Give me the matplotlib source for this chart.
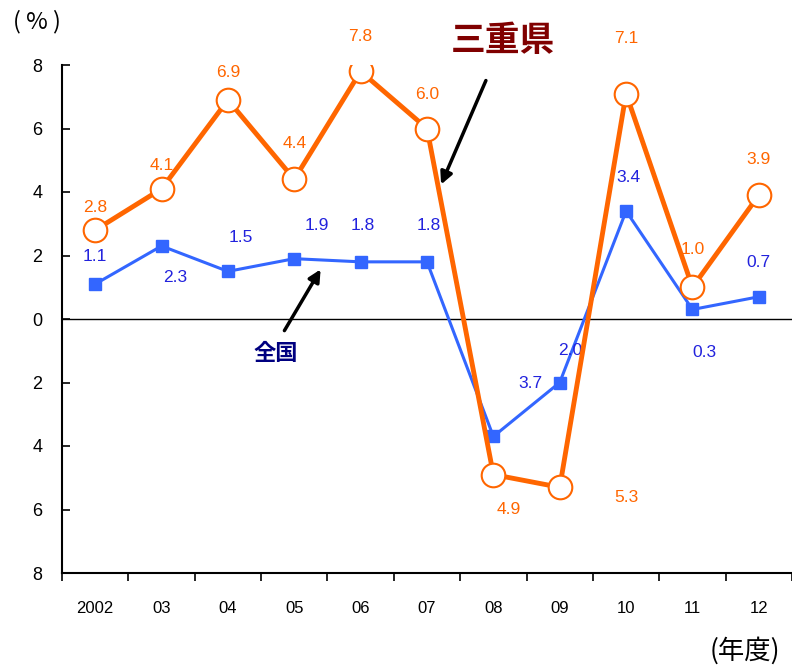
import numpy as np
import matplotlib.pyplot as plt

plt.rcParams['font.family'] = ['Liberation Sans Narrow', 'Liberation Sans', 'DejaVu Sans']

years = ['2002', '03', '04', '05', '06', '07', '08', '09', '10', '11', '12']
mie = [2.8, 4.1, 6.9, 4.4, 7.8, 6.0, -4.9, -5.3, 7.1, 1.0, 3.9]
zenkoku = [1.1, 2.3, 1.5, 1.9, 1.8, 1.8, -3.7, -2.0, 3.4, 0.3, 0.7]
mie_txt = ['2.8', '4.1', '6.9', '4.4', '7.8', '6.0', '4.9', '5.3', '7.1', '1.0', '3.9']
zen_txt = ['1.1', '2.3', '1.5', '1.9', '1.8', '1.8', '3.7', '2.0', '3.4', '0.3', '0.7']
yticks = [8, 6, 4, 2, 0, -2, -4, -6, -8]
ytick_txt = ['8', '6', '4', '2', '0', '2', '4', '6', '8']

# label offsets in pixels (dx, dy) from the marker
mie_off = [(0, 23), (0, 23), (0, 27), (0, 36), (0, 35), (0, 34), (15, -35), (67, -10), (0, 55), (0, 38), (0, 36)]
zen_off = [(0, 28), (14, -32), (13, 34), (23, 33), (2, 36), (2, 36), (37, 53), (10, 32), (2, 34), (12, -43), (0, 34)]

cjk = ['Noto Sans CJK JP', 'DejaVu Sans']

fig = plt.figure(figsize=(7.92, 6.65), dpi=100)
ax = fig.add_axes([62 / 792, 1 - 573 / 665, 730 / 792, 508 / 665])
x = np.arange(len(years))

ax.plot(x, zenkoku, color='#3366FF', lw=2.2, marker='s', ms=9, mfc='#3366FF', mec='#3366FF', zorder=3)
ax.plot(x, mie, color='#FF6600', lw=3.5, marker='o', ms=17, mfc='white', mec='#FF6600', mew=1.5, zorder=4)
ax.axhline(0, color='black', lw=1, zorder=1)

for i in range(len(x)):
    ax.annotate(mie_txt[i], (x[i], mie[i]), xytext=(mie_off[i][0] * 0.72, mie_off[i][1] * 0.72),
                textcoords='offset points', ha='center', va='center', color='#FF6600', fontsize=12.5)
    ax.annotate(zen_txt[i], (x[i], zenkoku[i]), xytext=(zen_off[i][0] * 0.72, zen_off[i][1] * 0.72),
                textcoords='offset points', ha='center', va='center', color='#2222DD', fontsize=12.5)

ax.set_xlim(-0.5, 10.5)
ax.set_ylim(-8, 8)
ax.set_yticks(yticks)
ax.set_yticklabels(ytick_txt, fontsize=13)
ax.set_xticks(x)
ax.set_xticklabels(years, fontsize=12)
ax.set_xticks(np.arange(-0.5, 11, 1), minor=True)
ax.tick_params(axis='x', which='major', length=0, pad=20)
ax.tick_params(axis='x', which='minor', length=6, width=1.2, direction='out')
ax.tick_params(axis='y', length=6, width=1.2, direction='in', pad=14)
ax.spines['top'].set_visible(False)
ax.spines['right'].set_visible(False)
ax.spines['left'].set_linewidth(1.5)
ax.spines['bottom'].set_linewidth(1.5)

fig.text(37 / 792, 1 - 22 / 665, '( % )', fontsize=17, ha='center', va='center', family=cjk)
fig.text(745 / 792, 1 - 651 / 665, '(年度)', fontsize=19, ha='center', va='center', family=cjk)

fig.text(503 / 792, 1 - 40 / 665, '三重県', fontsize=25, fontweight='bold', color='#800000',
         ha='center', va='center', family=cjk)
fig.text(276 / 792, 1 - 354 / 665, '全国', fontsize=16, fontweight='bold', color='#000080',
         ha='center', va='center', family=cjk)

ax.annotate('', xy=(440 / 792, 1 - 187 / 665), xytext=(487 / 792, 1 - 78 / 665),
            xycoords='figure fraction', textcoords='figure fraction',
            arrowprops=dict(arrowstyle='-|>', color='black', lw=2.5, mutation_scale=18))
ax.annotate('', xy=(322 / 792, 1 - 267 / 665), xytext=(283 / 792, 1 - 333 / 665),
            xycoords='figure fraction', textcoords='figure fraction',
            arrowprops=dict(arrowstyle='-|>', color='black', lw=2.5, mutation_scale=18))

fig.savefig('out.png', dpi=100)
